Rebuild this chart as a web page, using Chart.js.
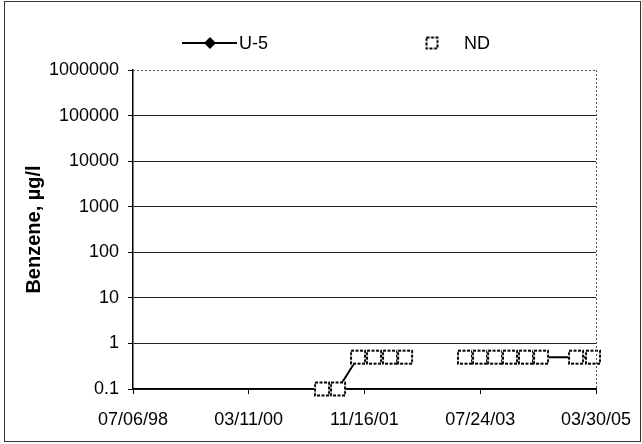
<!DOCTYPE html>
<html>
<head>
<meta charset="utf-8">
<script src="https://cdn.jsdelivr.net/npm/chart.js@4/dist/chart.umd.min.js"></script>
<style>
  html, body { margin: 0; padding: 0; background: #fff; }
</style>
</head>
<body>
<canvas id="grafico" width="642" height="444"></canvas>
<script>
// datos
const xTickLabels = ['07/06/98', '03/11/00', '11/16/01', '07/24/03', '03/30/05']
const yTickValues = [0.1, 1, 10, 100, 1000, 10000, 100000, 1000000]
const yTickLabels = ['0.1', '1', '10', '100', '1000', '10000', '100000', '1000000']

const sampleDates = ['2001-04-05', '2001-06-29', '2001-10-13', '2002-01-06', '2002-04-01', '2002-06-20',
                     '2002-11-15',
                     '2003-05-04', '2003-07-23', '2003-10-11', '2003-12-29', '2004-03-23', '2004-06-11',
                     '2004-12-14', '2005-03-14']
const u5Values = [0.1, 0.1, 0.5, 0.5, 0.5, 0.5, null, 0.5, 0.5, 0.5, 0.5, 0.5, 0.5, 0.5, 0.5]
const ndValues = [0.1, 0.1, 0.5, 0.5, 0.5, 0.5, null, 0.5, 0.5, 0.5, 0.5, 0.5, 0.5, 0.5, 0.5]

const fuente = "Arial, 'Liberation Sans', sans-serif"

let isoADias = (s) => {
    let p = s.split('-')
    return Date.UTC(+p[0], +p[1] - 1, +p[2]) / 86400000
}
let etiquetaADias = (s) => {
    let p = s.split('/')
    let yy = +p[2]
    let anho = yy > 50 ? 1900 + yy : 2000 + yy
    return Date.UTC(anho, +p[0] - 1, +p[1]) / 86400000
}

const xTickValues = xTickLabels.map(etiquetaADias)
const puntosU5 = sampleDates.map((d, i) => ({ x: isoADias(d), y: u5Values[i] }))
const puntosND = sampleDates.map((d, i) => ({ x: isoADias(d), y: ndValues[i] }))

// marcador cuadrado punteado para ND
let hacerCuadro = (ancho, alto) => {
    let c = document.createElement('canvas')
    c.width = ancho + 2
    c.height = alto + 2
    let g = c.getContext('2d')
    g.fillStyle = '#fff'
    g.fillRect(1, 1, ancho, alto)
    g.strokeStyle = '#000'
    g.lineWidth = 2
    g.setLineDash([3, 1.5])
    g.strokeRect(2, 2, ancho - 2, alto - 2)
    return c
}
const cuadroND = hacerCuadro(16, 15)
const cuadroLeyenda = hacerCuadro(13, 13)

const marcoPlugin = {
    id: 'marco',
    afterDraw(chart) {
        const ctx = chart.ctx
        const a = chart.chartArea
        ctx.save()
        // borde punteado arriba y derecha
        ctx.strokeStyle = '#555'
        ctx.lineWidth = 1
        ctx.setLineDash([2, 2])
        ctx.beginPath()
        ctx.moveTo(a.left, a.top + 0.5)
        ctx.lineTo(a.right, a.top + 0.5)
        ctx.moveTo(a.right + 0.5, a.top)
        ctx.lineTo(a.right + 0.5, a.bottom)
        ctx.stroke()
        ctx.setLineDash([])
        // marco exterior
        ctx.strokeStyle = '#333'
        ctx.strokeRect(4.5, 1.5, 636, 440)
        // leyenda
        const yL = 43
        ctx.strokeStyle = '#000'
        ctx.lineWidth = 2
        ctx.beginPath()
        ctx.moveTo(182, yL)
        ctx.lineTo(237, yL)
        ctx.stroke()
        ctx.fillStyle = '#000'
        ctx.beginPath()
        ctx.moveTo(210, yL - 6)
        ctx.lineTo(216, yL)
        ctx.lineTo(210, yL + 6)
        ctx.lineTo(204, yL)
        ctx.closePath()
        ctx.fill()
        ctx.font = '18px ' + fuente
        ctx.textBaseline = 'middle'
        ctx.textAlign = 'left'
        ctx.fillText('U-5', 239, yL + 1)
        ctx.drawImage(cuadroLeyenda, 432 - cuadroLeyenda.width / 2, yL - cuadroLeyenda.height / 2)
        ctx.fillText('ND', 464, yL + 1)
        ctx.restore()
    }
}

let cargarGrafico = () => {
    let ctx = document.getElementById('grafico').getContext('2d')
    new Chart(ctx, {
        type: 'line',
        data: {
            datasets: [
                {
                    label: 'ND',
                    data: puntosND,
                    showLine: false,
                    clip: false,
                    pointStyle: cuadroND,
                    pointRadius: 8,
                    pointHoverRadius: 8
                },
                {
                    label: 'U-5',
                    data: puntosU5,
                    clip: false,
                    borderColor: '#000',
                    borderWidth: 2,
                    backgroundColor: '#000',
                    pointStyle: 'rectRot',
                    pointRadius: 5,
                    pointBackgroundColor: '#000',
                    pointBorderColor: '#000',
                    spanGaps: false,
                    tension: 0
                }
            ]
        },
        options: {
            responsive: false,
            animation: false,
            devicePixelRatio: 1,
            layout: { padding: { top: 70, right: 46, left: 0, bottom: 0 } },
            plugins: {
                legend: { display: false },
                tooltip: { enabled: false }
            },
            scales: {
                x: {
                    type: 'linear',
                    min: xTickValues[0],
                    max: xTickValues[xTickValues.length - 1],
                    afterBuildTicks: (s) => { s.ticks = xTickValues.map(v => ({ value: v })) },
                    afterFit: (s) => {
                        s.height = 55
                        // la etiqueta final no debe achicar el area
                        s.paddingRight = Math.min(s.paddingRight, 40)
                        s.paddingLeft = Math.min(s.paddingLeft, 40)
                    },
                    ticks: {
                        callback: (v, i) => xTickLabels[i],
                        autoSkip: false,
                        maxRotation: 0,
                        padding: 15,
                        color: '#000',
                        font: { family: fuente, size: 18 }
                    },
                    grid: { drawOnChartArea: false, drawTicks: true, tickLength: 5, color: '#000' },
                    border: { display: true, color: '#000', width: 1.5 }
                },
                y: {
                    type: 'logarithmic',
                    min: 0.1,
                    max: 1000000,
                    afterBuildTicks: (s) => { s.ticks = yTickValues.map(v => ({ value: v })) },
                    afterFit: (s) => { s.width = 133 },
                    ticks: {
                        callback: (v, i) => yTickLabels[i],
                        autoSkip: false,
                        padding: 9,
                        color: '#000',
                        font: { family: fuente, size: 18 }
                    },
                    grid: {
                        drawOnChartArea: true,
                        drawTicks: true,
                        tickLength: 5,
                        lineWidth: 1,
                        tickColor: '#000',
                        color: (c) => (c.tick && c.tick.value === 1000000) ? 'rgba(0,0,0,0)' : '#222'
                    },
                    border: { display: true, color: '#000', width: 1.5 },
                    title: {
                        display: true,
                        text: 'Benzene, µg/l',
                        color: '#000',
                        font: { family: fuente, size: 20, weight: 'bold' },
                        padding: { top: 22, bottom: 0 }
                    }
                }
            }
        },
        plugins: [marcoPlugin]
    })
}

window.addEventListener('DOMContentLoaded', (event) => {
    cargarGrafico()
})
</script>
</body>
</html>
